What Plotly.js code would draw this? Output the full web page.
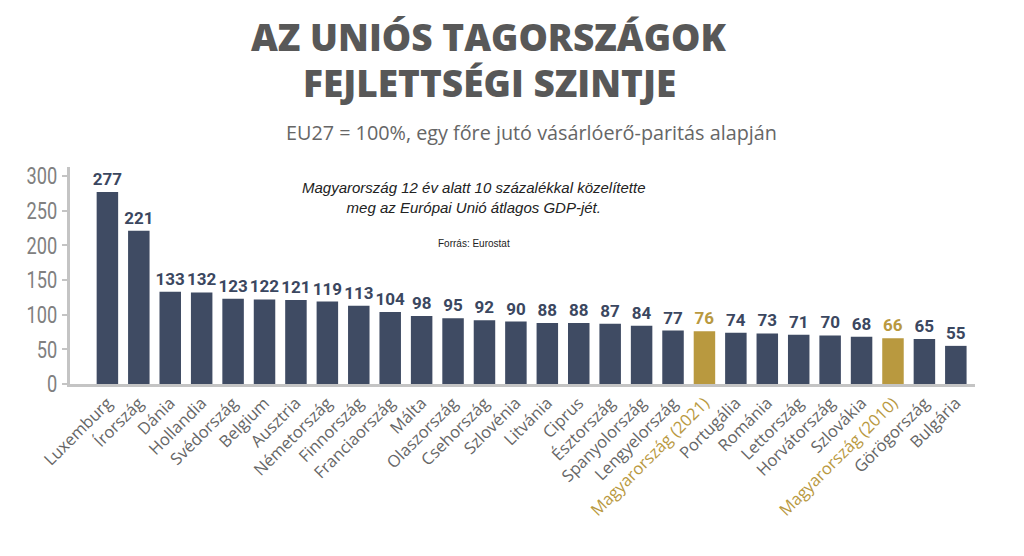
<!DOCTYPE html>
<html><head><meta charset="utf-8">
<script src="https://cdn.plot.ly/plotly-3.0.1.min.js"></script>
<style>body{margin:0;background:#fff}#c{width:1024px;height:556px}</style>
</head><body><div id="c"></div>
<script>
const countries = ["Luxemburg","Írország","Dánia","Hollandia","Svédország","Belgium","Ausztria","Németország","Finnország","Franciaország","Málta","Olaszország","Csehország","Szlovénia","Litvánia","Ciprus","Észtország","Spanyolország","Lengyelország","Magyarország (2021)","Portugália","Románia","Lettország","Horvátország","Szlovákia","Magyarország (2010)","Görögország","Bulgária"];
const values = [277,221,133,132,123,122,121,119,113,104,98,95,92,90,88,88,87,84,77,76,74,73,71,70,68,66,65,55];
const highlighted = ["Magyarország (2021)","Magyarország (2010)"];
const yTicks = [0,50,100,150,200,250,300];

const NAVY = "#3f4b63", GOLD = "#b9993f";
const isHi = countries.map(c => highlighted.includes(c));
const barColors = isHi.map(h => h ? GOLD : NAVY);
const tickText = countries.map((c,i) => isHi[i] ? `<span style="color:${GOLD}">${c}</span>` : c);

const trace = {
  type: "bar", x: countries, y: values,
  marker: {color: barColors},
  text: values.map(String), textposition: "outside", constraintext: "none",
  textfont: {family: "Roboto", size: 17, weight: 700, color: barColors.map(c => c === GOLD ? GOLD : "#3b4760")},
  cliponaxis: false, hoverinfo: "skip"
};

const px = v => (v-70)/905, py = v => (384-v)/217;

const layout = {
  width: 1024, height: 556,
  margin: {l: 70, r: 49, t: 167, b: 172},
  paper_bgcolor: "#fff", plot_bgcolor: "#fff",
  showlegend: false, bargap: 0.316,
  xaxis: {
    range: [-1.19, 27.61], tickmode: "array", tickvals: countries, ticktext: tickText,
    tickangle: -45, tickfont: {family: "Open Sans", size: 16.5, color: "#666"},
    showline: true, linecolor: "#c4c4c4", linewidth: 3, ticks: "", showgrid: false, zeroline: false, fixedrange: true
  },
  yaxis: {
    range: [0, 313], tickvals: yTicks, ticks: "outside", ticklen: 5, tickwidth: 2, tickcolor: "#c4c4c4",
    tickfont: {family: "Roboto", size: 24, color: "#808080"},
    showline: true, linecolor: "#c4c4c4", linewidth: 3, showgrid: false, zeroline: false, fixedrange: true
  },
  annotations: [
    {text: "AZ UNIÓS TAGORSZÁGOK", xref: "paper", yref: "paper", x: px(489), y: py(37),
     xanchor: "center", yanchor: "middle", showarrow: false,
     font: {family: "Open Sans", size: 37, weight: 800, color: "#585858"}},
    {text: "FEJLETTSÉGI SZINTJE", xref: "paper", yref: "paper", x: px(489), y: py(82),
     xanchor: "center", yanchor: "middle", showarrow: false,
     font: {family: "Open Sans", size: 37, weight: 800, color: "#585858"}},
    {text: "EU27 = 100%, egy főre jutó vásárlóerő-paritás alapján", xref: "paper", yref: "paper",
     x: px(531), y: py(132), xanchor: "center", yanchor: "middle", showarrow: false,
     font: {family: "Open Sans", size: 19.8, color: "#666"}},
    {text: "<i>Magyarország 12 év alatt 10 százalékkal közelítette<br>meg az Európai Unió átlagos GDP-jét.</i>", xref: "paper", yref: "paper",
     x: px(474), y: py(197), xanchor: "center", yanchor: "middle", showarrow: false, align: "center",
     font: {family: "Liberation Sans", size: 15, color: "#222"}},
    {text: "Forrás: Eurostat", xref: "paper", yref: "paper",
     x: px(474), y: py(243), xanchor: "center", yanchor: "middle", showarrow: false,
     font: {family: "Liberation Sans", size: 10, color: "#222"}}
  ]
};
Plotly.newPlot("c", [trace], layout, {displayModeBar: false, staticPlot: true}).then(() => {
  // condense the y tick labels horizontally (reference uses a condensed face)
  document.querySelectorAll(".ytick text").forEach(t => {
    const x = parseFloat(t.getAttribute("x")) || 0;
    const tr = t.getAttribute("transform") || "";
    t.setAttribute("transform", `${tr} translate(${x},0) scale(0.76,1) translate(${-x},0)`);
  });
});
</script></body></html>
